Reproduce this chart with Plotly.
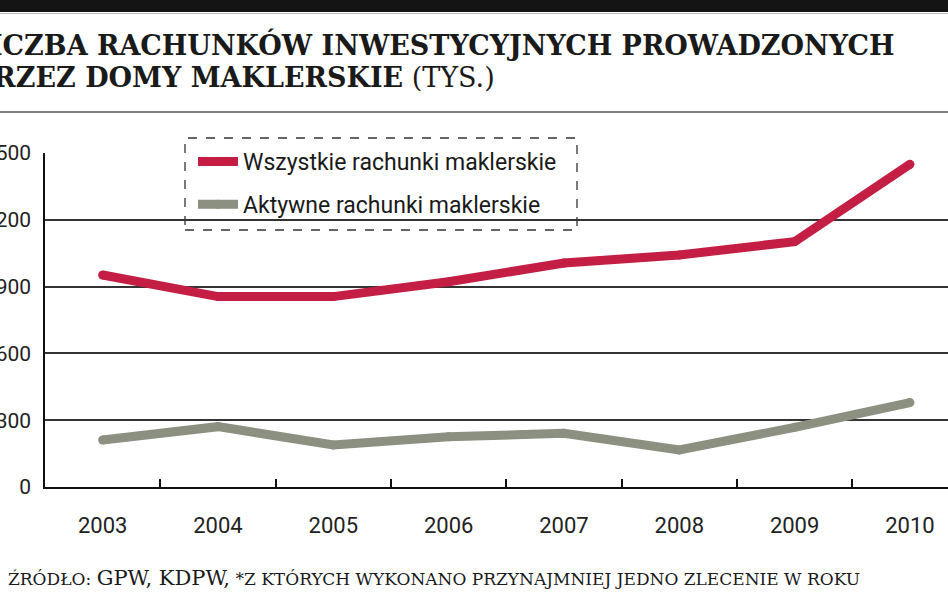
import plotly.graph_objects as go

years = ["2003", "2004", "2005", "2006", "2007", "2008", "2009", "2010"]
all_accounts = [952, 855, 855, 922, 1006, 1042, 1102, 1449]
active_accounts = [211, 271, 189, 226, 241, 166, 268, 379]
y_ticks = [0, 300, 600, 900, 1200, 1500]

RED = "#C41E45"
GRAY = "#8B9080"
TICK_FONT = "Roboto"

W, H = 948, 593
L, T, B = 45, 153, 487


def px(x):
    return (x - L) / (W - L)


def py(y):
    return (B - y) / (B - T)


fig = go.Figure()
fig.add_trace(go.Scatter(
    x=years, y=all_accounts, name="Wszystkie rachunki maklerskie",
    mode="lines+markers", line=dict(color=RED, width=9),
    marker=dict(color=RED, size=9), legendgroup="a"))
fig.add_trace(go.Scatter(
    x=years, y=active_accounts, name="Aktywne rachunki maklerskie",
    mode="lines+markers", line=dict(color=GRAY, width=9),
    marker=dict(color=GRAY, size=9), legendgroup="b"))

shapes = [
    dict(type="rect", xref="paper", yref="paper", x0=px(0), x1=px(W),
         y0=py(12), y1=py(0), fillcolor="#141414", line=dict(width=0), layer="above"),
    dict(type="line", xref="paper", yref="paper", x0=px(0), x1=px(W),
         y0=py(13.5), y1=py(13.5), line=dict(color="#bbbbbb", width=1)),
    dict(type="line", xref="paper", yref="paper", x0=px(0), x1=px(W),
         y0=py(112), y1=py(112), line=dict(color="#555555", width=1.5)),
    dict(type="rect", xref="paper", yref="paper", x0=px(185), x1=px(577),
         y0=py(230), y1=py(138), fillcolor="white",
         line=dict(color="#333333", width=1.3, dash="dash"), layer="between"),
]

annotations = [
    dict(text="<b>LICZBA RACHUNKÓW INWESTYCYJNYCH PROWADZONYCH</b>",
         xref="paper", yref="paper", x=px(897), y=py(45), xanchor="right", yanchor="middle",
         showarrow=False, font=dict(family="DejaVu Serif", size=27, color="#1a1a1a")),
    dict(text="<b>PRZEZ DOMY MAKLERSKIE</b> (TYS.)",
         xref="paper", yref="paper", x=px(497), y=py(77), xanchor="right", yanchor="middle",
         showarrow=False, font=dict(family="DejaVu Serif", size=27, color="#1a1a1a")),
    dict(text="ŹRÓDŁO: <span style='font-size:21px'>GPW, KDPW,</span> *Z KTÓRYCH WYKONANO PRZYNAJMNIEJ JEDNO ZLECENIE W ROKU",
         xref="paper", yref="paper", x=px(862), y=py(578), xanchor="right", yanchor="middle",
         showarrow=False, font=dict(family="DejaVu Serif", size=17, color="#1a1a1a")),
]

fig.update_layout(
    width=W, height=H,
    margin=dict(l=L, r=0, t=T, b=H - B, pad=0),
    paper_bgcolor="white", plot_bgcolor="white",
    showlegend=True,
    legend=dict(x=px(193), y=py(140), xanchor="left", yanchor="top",
                xref="paper", yref="paper",
                bgcolor="rgba(0,0,0,0)", borderwidth=0,
                font=dict(family=TICK_FONT, size=23, color="#1a1a1a"),
                traceorder="grouped", tracegroupgap=10, itemwidth=40),
    shapes=shapes,
    annotations=annotations,
    xaxis=dict(type="category", range=[-0.5, 7.33], tickson="boundaries",
               ticks="inside", ticklen=8, tickwidth=1.5, tickcolor="#111",
               showgrid=False, showline=True, linecolor="#111", linewidth=1.5,
               ticklabelstandoff=18,
               tickfont=dict(family=TICK_FONT, size=22, color="#222"),
               zeroline=False, fixedrange=True),
    yaxis=dict(range=[0, 1500], tickvals=y_ticks, ticktext=[str(v) for v in y_ticks],
               showgrid=True, gridcolor="#333", gridwidth=1.5,
               showline=True, linecolor="#111", linewidth=1.5,
               ticks="", ticklabelstandoff=8,
               tickfont=dict(family=TICK_FONT, size=21, color="#222"),
               zeroline=False, automargin=False, fixedrange=True),
)
fig.update_xaxes(automargin=False)

fig.write_html("out.html")
